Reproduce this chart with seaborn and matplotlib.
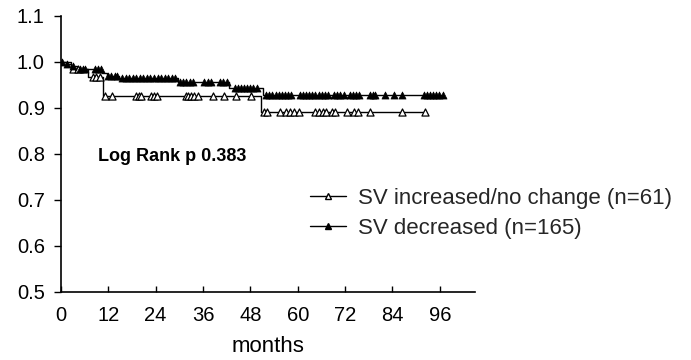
import numpy as np
import pandas as pd
import seaborn as sns
import matplotlib.pyplot as plt
from matplotlib.lines import Line2D

# survival steps (months, proportion)
inc_time = [0, 2.5, 7.0, 10.6, 50.8, 92.3]
inc_surv = [1.0, 0.984, 0.967, 0.926, 0.891, 0.891]
inc_cens = [3.2, 4.4, 8.2, 9.0, 9.8, 11.2, 13.0, 19.0, 19.7, 20.4, 22.8, 23.6, 24.4,
            31.6, 32.3, 33.0, 33.7, 34.7, 38.5, 41.3, 44.4, 48.2,
            51.4, 52.2, 55.4, 57.1, 58.1, 59.1, 60.3, 64.3, 65.3, 66.3, 67.2,
            68.6, 69.4, 72.4, 74.2, 75.3, 78.3, 86.5, 92.3]

dec_time = [0, 1.2, 2.5, 4.0, 10.5, 11.6, 14.8, 29.6, 42.5, 51.2, 96.8]
dec_surv = [1.0, 0.995, 0.99, 0.985, 0.975, 0.97, 0.965, 0.956, 0.944, 0.928, 0.928]
dec_cens = [0.4, 1.6, 3.0, 4.8, 5.5, 6.2, 8.7, 9.4, 10.1, 12.0, 12.8, 13.6, 14.3,
            15.5, 16.4, 17.3, 18.2, 19.1, 20.0, 20.9, 21.8, 22.7, 23.6, 24.5,
            25.4, 26.3, 27.2, 28.1, 29.0, 30.2, 31.0, 31.8, 32.6, 33.4, 36.3,
            37.2, 38.0, 40.3, 41.2, 42.0, 44.0, 44.8, 45.6, 46.4, 47.2, 48.0,
            48.8, 49.6, 52.0, 52.8, 53.6, 54.4, 55.2, 56.0, 56.8, 57.6, 58.4,
            60.5, 61.3, 62.1, 62.9, 63.7, 64.5, 65.3, 66.1, 66.9, 67.7, 69.2,
            70.0, 70.8, 71.6, 73.2, 74.0, 74.8, 75.6, 78.2, 79.0, 79.6, 82.1,
            84.4, 86.5, 91.9, 92.7, 93.5, 94.3, 95.1, 95.9, 96.7]

labels = ["SV increased/no change (n=61)", "SV decreased (n=165)"]
x_ticks = [0, 12, 24, 36, 48, 60, 72, 84, 96]
y_ticks = [0.5, 0.6, 0.7, 0.8, 0.9, 1.0, 1.1]


def cens_points(times, surv, cens):
    idx = np.searchsorted(times, cens, side="right") - 1
    return pd.DataFrame({"t": cens, "s": np.array(surv)[idx]})


sns.set_theme(style="white")
plt.rcParams["font.family"] = ["Liberation Sans", "DejaVu Sans"]

fig = plt.figure(figsize=(6.91, 3.6), dpi=100)
ax = fig.add_axes([0.088, 0.189, 0.6, 0.767])

sns.lineplot(x=inc_time, y=inc_surv, drawstyle="steps-post", color="black",
             lw=1.0, ax=ax)
sns.lineplot(x=dec_time, y=dec_surv, drawstyle="steps-post", color="black",
             lw=1.0, ax=ax)
sns.scatterplot(data=cens_points(inc_time, inc_surv, inc_cens), x="t", y="s",
                marker="^", s=26, facecolor="white", edgecolor="black",
                linewidth=0.9, ax=ax, zorder=3)
sns.scatterplot(data=cens_points(dec_time, dec_surv, dec_cens), x="t", y="s",
                marker="^", s=26, color="black", edgecolor="black",
                linewidth=0.5, ax=ax, zorder=3)

ax.set_xlim(0, 105)
ax.set_ylim(0.5, 1.1)
ax.set_xticks(x_ticks)
ax.set_yticks(y_ticks)
ax.set_yticklabels([f"{v:.1f}" for v in y_ticks])
ax.tick_params(axis="x", direction="in", length=4, width=1, labelsize=14.5,
               pad=10, colors="black", bottom=True)
ax.tick_params(axis="y", direction="out", length=5, width=1, labelsize=14.5,
               pad=6.5, colors="black", left=True)
for side in ["top", "right"]:
    ax.spines[side].set_visible(False)
for side in ["left", "bottom"]:
    ax.spines[side].set_color("black")
    ax.spines[side].set_linewidth(1.2)
ax.set_xlabel("months", fontsize=16, labelpad=8, color="black")
ax.set_ylabel("")

fig.text(0.142, 0.564, "Log Rank p 0.383", fontsize=13, fontweight="bold",
         va="center", ha="left", color="black")

handles = [
    Line2D([0], [0], color="black", lw=1, marker="^", markersize=4,
           markerfacecolor="white", markeredgecolor="black"),
    Line2D([0], [0], color="black", lw=1, marker="^", markersize=4,
           markerfacecolor="black", markeredgecolor="black"),
]
fig.legend(handles, labels, loc="upper left", bbox_to_anchor=(0.420, 0.534),
           frameon=False, fontsize=16, handlelength=1.6, handletextpad=0.56,
           labelspacing=0.4, numpoints=1)

plt.savefig("out.png", dpi=100)
